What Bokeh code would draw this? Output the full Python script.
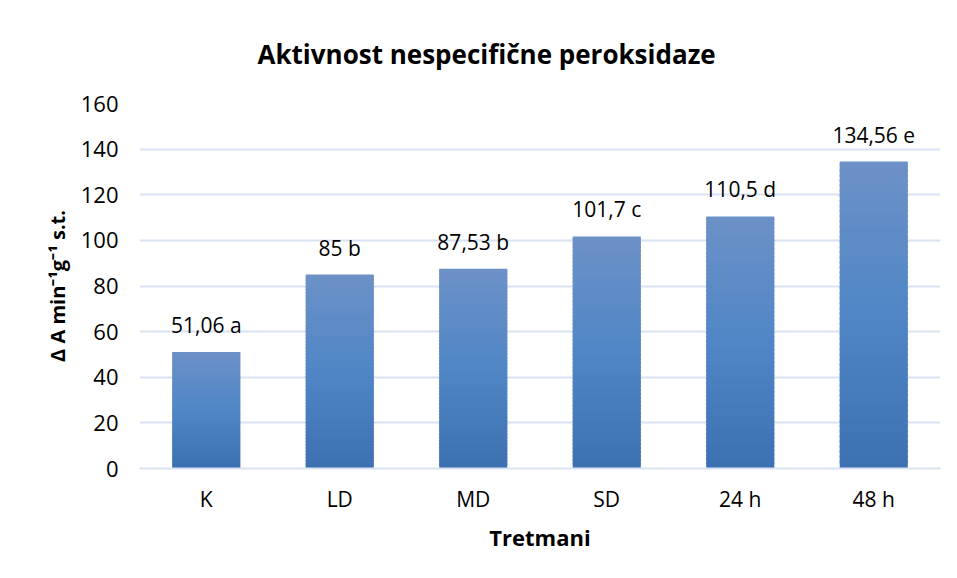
from bokeh.plotting import figure
from bokeh.models import ColumnDataSource, FixedTicker
from bokeh.embed import file_html
from bokeh.resources import INLINE

# ---- data ----
categories = ["K", "LD", "MD", "SD", "24 h", "48 h"]
values = [51.06, 85.0, 87.53, 101.7, 110.5, 134.56]
letters = ["a", "b", "b", "c", "d", "e"]
y_ticks = [0, 20, 40, 60, 80, 100, 120, 140, 160]

title_text = "Aktivnost nespecifične peroksidaze"
x_title = "Tretmani"
y_title = "Δ A min⁻¹g⁻¹ s.t."

FONT = "Open Sans"

def fmt(v):
    s = ("%.2f" % v).rstrip("0").rstrip(".")
    return s.replace(".", ",")

labels = [f"{fmt(v)} {l}" for v, l in zip(values, letters)]

# gradient colours (top -> middle -> bottom)
top_c = (0x6C, 0x91, 0xC7)
mid_c = (0x50, 0x86, 0xC6)
bot_c = (0x3D, 0x70, 0xB1)

def lerp(a, b, t):
    return tuple(int(round(a[i] + (b[i] - a[i]) * t)) for i in range(3))

def grad(t):  # t = 0 bottom, 1 top
    if t < 0.5:
        c = lerp(bot_c, mid_c, t / 0.5)
    else:
        c = lerp(mid_c, top_c, (t - 0.5) / 0.5)
    return "#%02x%02x%02x" % c

N = 60
seg_x, seg_b, seg_t, seg_c = [], [], [], []
for cat, v in zip(categories, values):
    for k in range(N):
        seg_x.append(cat)
        seg_b.append(v * k / N)
        seg_t.append(v * min(k + 1.6, N) / N)
        seg_c.append(grad((k + 0.5) / N))

seg_src = ColumnDataSource(dict(x=seg_x, bottom=seg_b, top=seg_t, color=seg_c))
lab_src = ColumnDataSource(dict(x=categories, y=values, text=labels))

p = figure(
    x_range=categories, y_range=(0, 160),
    width=941, height=562,
    output_backend="svg", toolbar_location=None,
    min_border_left=139, min_border_right=1,
    min_border_top=103, min_border_bottom=94,
)

p.title.text = title_text
p.title.align = "left"
p.title.offset = 118
p.title.text_font = FONT
p.title.text_font_size = "26px"
p.title.text_font_style = "bold"
p.title.text_color = "#000000"
p.title.standoff = 64

p.vbar(x="x", bottom="bottom", top="top", width=0.51, source=seg_src,
       fill_color="color", line_color=None)

p.text(x="x", y="y", text="text", source=lab_src,
       text_align="center", text_baseline="bottom", y_offset=-13,
       text_font={"value": FONT}, text_font_size="21px", text_color="#000000")

# axes
p.yaxis.ticker = FixedTicker(ticks=y_ticks)
p.yaxis.axis_line_color = None
p.yaxis.major_tick_line_color = None
p.yaxis.minor_tick_line_color = None
p.yaxis.major_label_standoff = 15
p.yaxis.major_label_text_font = FONT
p.yaxis.major_label_text_font_size = "22px"
p.yaxis.major_label_text_color = "#000000"
p.yaxis.axis_label = y_title
p.yaxis.axis_label_text_font = FONT
p.yaxis.axis_label_text_font_size = "20px"
p.yaxis.axis_label_text_font_style = "bold"
p.yaxis.axis_label_text_color = "#000000"
p.yaxis.axis_label_standoff = 7

p.xaxis.axis_line_color = "#d9e2f2"
p.xaxis.axis_line_width = 2
p.xaxis.major_tick_line_color = None
p.xaxis.minor_tick_line_color = None
p.xaxis.major_label_standoff = 10
p.xaxis.major_label_text_font = FONT
p.xaxis.major_label_text_font_size = "21px"
p.xaxis.major_label_text_color = "#000000"
p.xaxis.axis_label = x_title
p.xaxis.axis_label_text_font = FONT
p.xaxis.axis_label_text_font_size = "22px"
p.xaxis.axis_label_text_font_style = "bold"
p.xaxis.axis_label_text_color = "#000000"
p.xaxis.axis_label_standoff = 6

p.xgrid.grid_line_color = None
p.ygrid.grid_line_color = "#d9e2f2"
p.ygrid.grid_line_width = 2
p.outline_line_color = None
p.x_range.range_padding = 0

open("out.html", "w").write(file_html(p, INLINE))
